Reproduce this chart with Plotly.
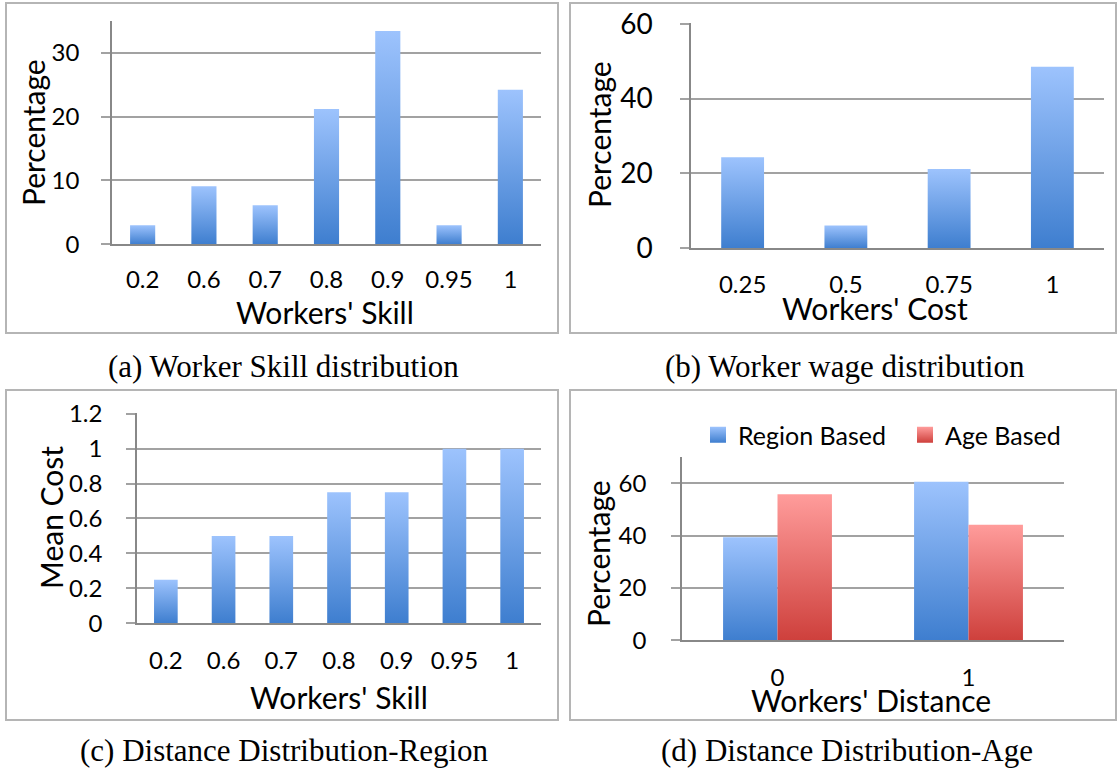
import plotly.graph_objects as go

W, H = 1119, 772

# ---- data ----
skill_levels = ["0.2", "0.6", "0.7", "0.8", "0.9", "0.95", "1"]
skill_pct = [3.0, 9.1, 6.1, 21.2, 33.4, 3.0, 24.2]

cost_levels = ["0.25", "0.5", "0.75", "1"]
cost_pct = [24.3, 6.1, 21.2, 48.5]

mean_cost_skill = ["0.2", "0.6", "0.7", "0.8", "0.9", "0.95", "1"]
mean_cost = [0.25, 0.5, 0.5, 0.75, 0.75, 1.0, 1.0]

distance_levels = ["0", "1"]
region_pct = [39.4, 60.6]
age_pct = [55.8, 44.2]

# ---- style ----
FONT = "Lato"
SERIF = "Liberation Serif"
BLUE = ("#3E7ECF", "#9DC3FD")   # bottom, top
RED = ("#CE403C", "#FF9C9B")
GRID = "#a2a2a2"
AXIS = "#888888"
FRAME = "#b5b5b5"


def px(x):
    return x / W


def py(y):
    return 1 - y / H


def bar(cx, value, width, ax, colors, group=None):
    x0, x1 = cx - width / 2, cx + width / 2
    return go.Scatter(
        x=[x0, x1, x1, x0, x0],
        y=[0, 0, value, value, 0],
        mode="lines",
        fill="toself",
        line=dict(width=0, color=colors[1]),
        fillgradient=dict(type="vertical",
                          colorscale=[[0, colors[0]], [1, colors[1]]],
                          start=0, stop=value),
        xaxis="x" + ax, yaxis="y" + ax,
        legendgroup=group, showlegend=False,
        hoverinfo="skip",
    )


def legend_key(name, colors):
    return go.Scatter(
        x=[None], y=[None], mode="markers", name=name, legendgroup=name,
        marker=dict(symbol="square", size=16, color=colors[1],
                    gradient=dict(type="vertical", color=colors[0])),
        xaxis="x4", yaxis="y4", showlegend=True,
    )


fig = go.Figure()

# (a) worker skill distribution
for i, v in enumerate(skill_pct):
    fig.add_trace(bar(i, v, 0.41, "", BLUE))
# (b) worker wage distribution
for i, v in enumerate(cost_pct):
    fig.add_trace(bar(i, v, 0.415, "2", BLUE))
# (c) mean cost per skill level
for i, v in enumerate(mean_cost):
    fig.add_trace(bar(i, v, 0.41, "3", BLUE))
# (d) distance distribution, two series side by side
bw = 0.285
for i, (r, a) in enumerate(zip(region_pct, age_pct)):
    fig.add_trace(bar(i - bw / 2, r, bw, "4", BLUE, "Region Based"))
    fig.add_trace(bar(i + bw / 2, a, bw, "4", RED, "Age Based"))
fig.add_trace(legend_key("Region Based", BLUE))
fig.add_trace(legend_key("Age Based", RED))


def xaxis(x0, x1, labels, size, standoff, anchor):
    return dict(domain=[px(x0), px(x1)], range=[-0.5, len(labels) - 0.5],
                tickvals=list(range(len(labels))), ticktext=labels,
                tickfont=dict(family=FONT, size=size, color="black"),
                showline=True, linecolor=AXIS, linewidth=1.5,
                showgrid=False, zeroline=False, ticks="", fixedrange=True,
                automargin=False, ticklabelstandoff=standoff, anchor=anchor)


def yaxis(y_bottom, y_top_px, top_val, rng, tickvals, ticktext, size, standoff, anchor):
    # y_bottom: pixel of value 0, y_top_px: pixel of value top_val
    per = (y_bottom - y_top_px) / top_val
    top = y_bottom - rng * per
    return dict(domain=[py(y_bottom), py(top)], range=[0, rng],
                tickvals=tickvals, ticktext=ticktext,
                tickfont=dict(family=FONT, size=size, color="black"),
                showline=True, linecolor=AXIS, linewidth=1.5,
                showgrid=True, gridcolor=GRID, gridwidth=1.5,
                ticks="outside", ticklen=9, tickcolor=GRID, tickwidth=1.5,
                zeroline=False, anchor=anchor, fixedrange=True,
                automargin=False, ticklabelstandoff=standoff)


fig.update_layout(
    width=W, height=H,
    margin=dict(l=0, r=0, t=0, b=0, autoexpand=False),
    paper_bgcolor="white", plot_bgcolor="rgba(0,0,0,0)",
    xaxis=xaxis(112, 541, skill_levels, 24, 13, "y"),
    yaxis=yaxis(244.3, 52.7, 30, 35, [0, 10, 20, 30], ["0", "10", "20", "30"],
                24, 17, "x"),
    xaxis2=xaxis(691, 1104, cost_levels, 24, 14, "y2"),
    yaxis2=yaxis(248.3, 23.7, 60, 60.15, [0, 20, 40, 60], ["0", "20", "40", "60"],
                 28, 22, "x2"),
    xaxis3=xaxis(137, 541, mean_cost_skill, 24, 15, "y3"),
    yaxis3=yaxis(623.3, 413.7, 1.2, 1.203, [0, 0.2, 0.4, 0.6, 0.8, 1.0, 1.2],
                 ["0", "0.2", "0.4", "0.6", "0.8", "1", "1.2"], 24, 19, "x3"),
    xaxis4=xaxis(682, 1064, distance_levels, 24, 15, "y4"),
    yaxis4=yaxis(640.3, 483.3, 60, 70, [0, 20, 40, 60], ["0", "20", "40", "60"],
                 24, 20, "x4"),
    legend=dict(orientation="h", x=px(698), y=py(435), xanchor="left", yanchor="middle",
                font=dict(family=FONT, size=25, color="black"),
                bgcolor="rgba(0,0,0,0)", itemclick=False, itemdoubleclick=False,
                tracegroupgap=0, entrywidth=162),
)

# panel frames
frames = [(6, 3, 558, 333), (570, 3, 1116, 333), (6, 390, 558, 720), (570, 390, 1116, 720)]
for x0, y0, x1, y1 in frames:
    fig.add_shape(type="rect", xref="paper", yref="paper",
                  x0=px(x0), x1=px(x1), y0=py(y1), y1=py(y0),
                  line=dict(color=FRAME, width=2), fillcolor="rgba(0,0,0,0)",
                  layer="below")

# axis titles
titles = [
    ("Percentage", 33, 133, -90),
    ("Workers' Skill", 325, 312, 0),
    ("Percentage", 599, 135, -90),
    ("Workers' Cost", 875, 308, 0),
    ("Mean Cost", 51, 518, -90),
    ("Workers' Skill", 339, 697, 0),
    ("Percentage", 598, 553, -90),
    ("Workers' Distance", 871, 700, 0),
]
for text, x, y, ang in titles:
    fig.add_annotation(text=text, x=px(x), y=py(y), xref="paper", yref="paper",
                       xanchor="center", yanchor="middle", showarrow=False,
                       textangle=ang, font=dict(family=FONT, size=30, color="black"))

# sub-figure captions
captions = [
    ("(a) Worker Skill distribution", 283, 366),
    ("(b) Worker wage distribution", 845, 366),
    ("(c) Distance Distribution-Region", 284, 750),
    ("(d) Distance Distribution-Age", 847, 750),
]
for text, x, y in captions:
    fig.add_annotation(text=text, x=px(x), y=py(y), xref="paper", yref="paper",
                       xanchor="center", yanchor="middle", showarrow=False,
                       font=dict(family=SERIF, size=31, color="black"))

fig.write_html("out.html")
